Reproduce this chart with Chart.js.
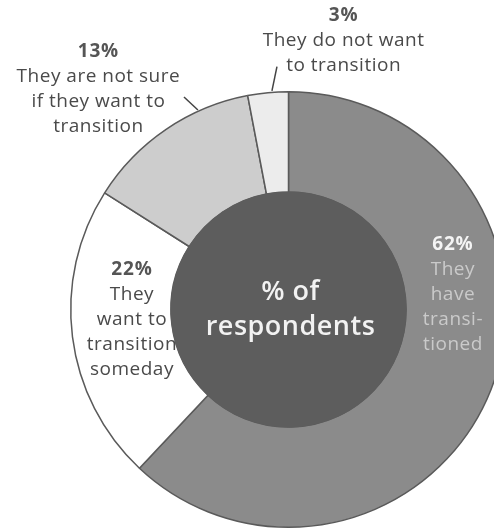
<!DOCTYPE html>
<html>
<head>
<meta charset="utf-8">
<script src="https://cdn.jsdelivr.net/npm/chart.js@4/dist/chart.umd.min.js"></script>
<style>
    html, body { margin: 0; padding: 0; background: #fff; overflow: hidden; }
    #wrap { position: relative; width: 520px; height: 531px; }
</style>
</head>
<body>
<div id="wrap"><canvas id="chart"></canvas></div>
<script>
// Survey answers, clockwise from 12 o'clock
const categories = [
    'They have transitioned',
    'They want to transition someday',
    'They are not sure if they want to transition',
    'They do not want to transition'
];
const shares = [62, 22, 13, 3];
const valueLabels = ['62%', '22%', '13%', '3%'];
// Text lines as they are set on the page
const labelLines = [
    ['They', 'have', 'transi-', 'tioned'],
    ['They', 'want to', 'transition', 'someday'],
    ['They are not sure', 'if they want to', 'transition'],
    ['They do not want', 'to transition']
];
const centerLines = ['% of', 'respondents'];

const sliceColors = ['#8b8b8b', '#ffffff', '#cdcdcd', '#ececec'];

// Where each text block sits, as fractions of the outer radius from the centre
const labelPlacement = [
    { x: 0.755, y: -0.296, pctColor: '#f4f4f4', textColor: '#cacaca' },
    { x: -0.719, y: -0.181, pctColor: '#555555', textColor: '#4a4a4a' },
    { x: -0.873, y: -1.183, pctColor: '#555555', textColor: '#4a4a4a' },
    { x: 0.253, y: -1.352, pctColor: '#555555', textColor: '#4a4a4a' }
];
// Short pointer lines for the labels that sit outside the ring
const leaders = [
    null,
    null,
    { from: [-0.416, -0.916], to: [-0.480, -0.976] },
    { from: [-0.076, -1.004], to: [-0.053, -1.115] }
];

const FONT = '"Open Sans", Lato, sans-serif';

const ringLabels = {
    id: 'ringLabels',
    afterDatasetsDraw(chart) {
        const ctx = chart.ctx;
        const arc = chart.getDatasetMeta(0).data[0];
        if (!arc) return;
        const { x: cx, y: cy, innerRadius, outerRadius } = arc.getProps(['x', 'y', 'innerRadius', 'outerRadius'], true);

        // dark disc in the hole
        ctx.save();
        ctx.beginPath();
        ctx.arc(cx, cy, innerRadius + 0.5, 0, Math.PI * 2);
        ctx.fillStyle = '#5d5d5d';
        ctx.fill();

        ctx.textAlign = 'center';
        ctx.textBaseline = 'middle';
        ctx.fillStyle = '#f2f2f2';
        ctx.font = '600 27px ' + FONT;
        ctx.letterSpacing = '0.5px';
        ctx.fillText(centerLines[0], cx + 2, cy - 17.5);
        ctx.fillText(centerLines[1], cx + 2, cy + 17.5);

        const lineH = 25;
        shares.forEach((v, i) => {
            const p = labelPlacement[i];
            const x = cx + p.x * outerRadius;
            const y = cy + p.y * outerRadius;
            ctx.font = 'bold 19px ' + FONT;
            ctx.letterSpacing = '0.8px';
            ctx.fillStyle = p.pctColor;
            ctx.fillText(valueLabels[i], x, y);
            ctx.font = '19px ' + FONT;
            ctx.letterSpacing = '0.5px';
            ctx.fillStyle = p.textColor;
            labelLines[i].forEach((line, j) => {
                ctx.fillText(line, x, y + lineH * (j + 1));
            });

            const l = leaders[i];
            if (l) {
                ctx.beginPath();
                ctx.moveTo(cx + l.from[0] * outerRadius, cy + l.from[1] * outerRadius);
                ctx.lineTo(cx + l.to[0] * outerRadius, cy + l.to[1] * outerRadius);
                ctx.strokeStyle = '#444';
                ctx.lineWidth = 1.5;
                ctx.stroke();
            }
        });
        ctx.restore();
    }
};

const ctx = document.getElementById('chart').getContext('2d');

const myChart = new Chart(ctx, {
    type: 'doughnut',
    data: {
        labels: categories,
        datasets: [{
            data: shares,
            backgroundColor: sliceColors,
            borderColor: '#5a5a5a',
            borderWidth: 1.5
        }]
    },
    options: {
        responsive: true,
        maintainAspectRatio: false,
        animation: false,
        cutout: '54%',
        layout: { padding: { left: 70, right: 13, top: 91, bottom: 3 } },
        plugins: {
            legend: { display: false },
            tooltip: { enabled: false },
            title: { display: false }
        }
    },
    plugins: [ringLabels]
});
</script>
</body>
</html>
